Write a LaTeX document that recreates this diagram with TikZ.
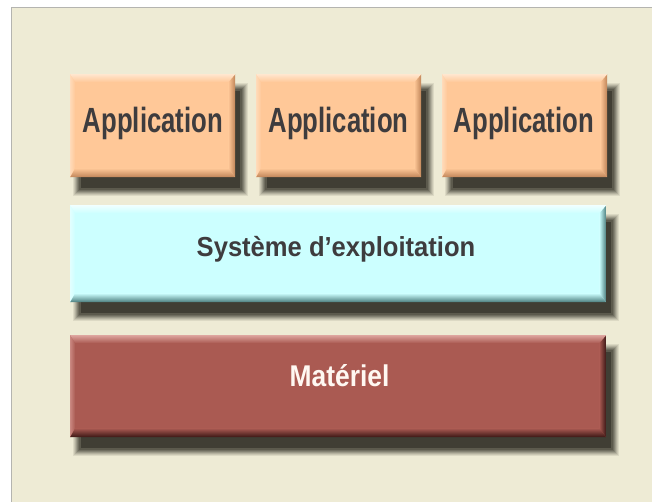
\documentclass[tikz,border=0pt]{standalone}
\usepackage{fontspec}
\setmainfont{Liberation Sans}
\usetikzlibrary{calc}
\definecolor{bgc}{HTML}{EEEBD5}
\definecolor{bordc}{HTML}{B4B4B0}
\definecolor{shadowc}{HTML}{403E34}
\definecolor{appmain}{HTML}{FFC898}
\definecolor{applight}{HTML}{FFE6CE}
\definecolor{appdark}{HTML}{BF8458}
\definecolor{sysmain}{HTML}{CCFFFF}
\definecolor{syslight}{HTML}{F0FFFF}
\definecolor{sysdark}{HTML}{4A7C7C}
\definecolor{hwmain}{HTML}{AA5A52}
\definecolor{hwlight}{HTML}{DDA49E}
\definecolor{hwdark}{HTML}{3A1614}
\definecolor{txtc}{HTML}{3E3C3E}
\definecolor{hwtxt}{HTML}{FFF8F2}
\pgfdeclarelayer{bg}
\pgfdeclarelayer{shd}
\pgfsetlayers{bg,shd,main}
\newcommand{\lbl}[3]{\scalebox{#2}[1]{\bfseries\fontsize{#1}{#1}\selectfont #3}}
\tikzset{
  layerbox/.style n args={3}{draw=none, fill=#1, inner sep=0pt, anchor=north west,
    path picture={
      \coordinate (nw) at (path picture bounding box.north west);
      \coordinate (ne) at (path picture bounding box.north east);
      \coordinate (sw) at (path picture bounding box.south west);
      \coordinate (se) at (path picture bounding box.south east);
      \shade[left color=#1, right color=#3]
        (ne) -- ([shift={(-7pt,-8pt)}]ne) -- ([shift={(-7pt,9pt)}]se) -- (se) -- cycle;
      \shade[left color=#2!60!#1, right color=#1]
        (nw) -- ([shift={(5pt,-8pt)}]nw) -- ([shift={(5pt,9pt)}]sw) -- (sw) -- cycle;
      \shade[top color=#2, bottom color=#1]
        (nw) -- (ne) -- ([shift={(-7pt,-8pt)}]ne) -- ([shift={(5pt,-8pt)}]nw) -- cycle;
      \shade[top color=#1, bottom color=#3]
        (sw) -- (se) -- ([shift={(-7pt,9pt)}]se) -- ([shift={(5pt,9pt)}]sw) -- cycle;
    }},
  appbox/.style={layerbox={appmain}{applight}{appdark}, minimum width=165pt, minimum height=103pt},
  sysbox/.style={layerbox={sysmain}{syslight}{sysdark}, minimum width=536pt, minimum height=97pt},
  hwbox/.style={layerbox={hwmain}{hwlight}{hwdark}, minimum width=536pt, minimum height=102pt},
  lab/.style={anchor=base, inner sep=0pt, text=txtc},
}
\begin{document}
\begin{tikzpicture}[x=1pt, y=-1pt]
\useasboundingbox (0,0) rectangle (652,502);
\begin{pgfonlayer}{bg}
  \fill[white] (0,0) rectangle (652,502);
  \fill[bgc] (11,8) rectangle (652,502);
  \draw[bordc, line width=1pt] (11,502) -- (11,8) -- (652,8);
\end{pgfonlayer}

\node[appbox] (a1) at (70,74) {};
\node[appbox] (a2) at (256,74) {};
\node[appbox] (a3) at (442,74) {};
\node[sysbox] (sys) at (70,205) {};
\node[hwbox] (hw) at (70,335) {};

\begin{pgfonlayer}{shd}
  \foreach \n in {a1,a2,a3,sys,hw}{
    \foreach \d/\o in {5/0.1,4/0.12,3/0.15,2/0.2,1/0.25,0/0.3,-1/0.4,-3/1}{
      \fill[shadowc, opacity=\o]
        ([xshift={8-(\d)}, yshift={-14+(\d)}]\n.north west) rectangle
        ([xshift={8+(\d)}, yshift={-14-(\d)}]\n.south east);
    }
  }
\end{pgfonlayer}

\node[lab] (t1) at (153,132.3) {\lbl{35}{0.735}{Application}};
\node[lab] (t2) at (338.5,132.3) {\lbl{35}{0.735}{Application}};
\node[lab] (t3) at (524,132.3) {\lbl{35}{0.735}{Application}};
\node[lab] (ts) at (336,257) {\lbl{27.5}{0.93}{Système d’exploitation}};
\node[lab, text=hwtxt] (th) at (339.5,386.7) {\lbl{30}{0.88}{Matériel}};
\end{tikzpicture}
\end{document}
